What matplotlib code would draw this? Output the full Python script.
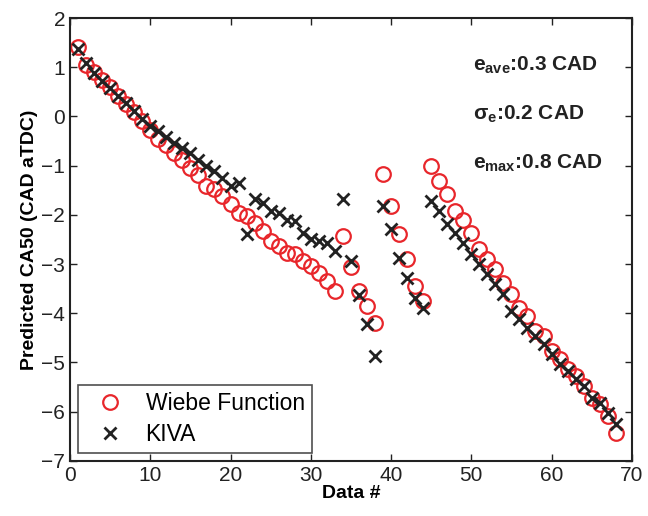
import matplotlib.pyplot as plt
import numpy as np

plt.rcParams['font.family'] = ['Liberation Sans', 'DejaVu Sans']
plt.rcParams['mathtext.fontset'] = 'custom'
plt.rcParams['mathtext.bf'] = 'Liberation Sans:bold'
plt.rcParams['mathtext.rm'] = 'Liberation Sans'

# data
data_no = np.arange(1, 69)

wiebe = [1.42, 1.05, 0.90, 0.75, 0.60, 0.42, 0.25, 0.10, -0.10, -0.28,
         -0.45, -0.58, -0.75, -0.88, -1.05, -1.20, -1.42, -1.48, -1.62, -1.79,
         -1.96, -2.02, -2.16, -2.33, -2.53, -2.63, -2.77, -2.80, -2.94, -3.05,
         -3.19, -3.35, -3.55, -2.43, -3.07, -3.55, -3.86, -4.20, -1.17, -1.82,
         -2.39, -2.90, -3.45, -3.76, -1.00, -1.32, -1.58, -1.93, -2.11, -2.37,
         -2.70, -2.90, -3.10, -3.38, -3.61, -3.89, -4.05, -4.36, -4.46, -4.77,
         -4.93, -5.14, -5.27, -5.48, -5.72, -5.84, -6.09, -6.43]

kiva = [1.38, 1.08, 0.88, 0.72, 0.58, 0.42, 0.28, 0.12, -0.05, -0.20,
        -0.30, -0.42, -0.55, -0.65, -0.75, -0.88, -1.00, -1.10, -1.25, -1.42,
        -1.35, -2.38, -1.68, -1.76, -1.93, -1.97, -2.10, -2.13, -2.37, -2.50,
        -2.54, -2.57, -2.74, -1.68, -2.94, -3.62, -4.22, -4.87, -1.82, -2.29,
        -2.87, -3.28, -3.69, -3.90, -1.72, -1.92, -2.19, -2.37, -2.57, -2.80,
        -3.00, -3.20, -3.40, -3.61, -3.96, -4.12, -4.30, -4.46, -4.63, -4.83,
        -5.04, -5.18, -5.34, -5.48, -5.72, -5.82, -6.03, -6.25]

stats = [r'$\mathbf{e}_{\mathbf{ave}}$:0.3 CAD', r'$\mathbf{\sigma}_{\mathbf{e}}$:0.2 CAD',
         r'$\mathbf{e}_{\mathbf{max}}$:0.8 CAD']

fig = plt.figure(figsize=(6.48, 5.16), dpi=100)
ax = fig.add_axes([0.108, 0.107, 0.867, 0.858])

ax.plot(data_no, wiebe, 'o', mfc='none', mec='#e8262b', ms=10.5, mew=1.6,
        label='Wiebe Function')
ax.plot(data_no, kiva, 'x', color='#222222', ms=8, mew=2, label='KIVA')

ax.set_xlim(0, 70)
ax.set_ylim(-7, 2)
ax.set_xticks(range(0, 71, 10))
ax.set_yticks(range(-7, 3))
ax.tick_params(direction='in', top=True, right=True, labelsize=15,
               length=5, width=1, colors='#222222')
for s in ax.spines.values():
    s.set_linewidth(1.5)
    s.set_color('#222222')

ax.set_xlabel('Data #', fontsize=14, fontweight='bold', labelpad=0)
ax.set_ylabel('Predicted CA50 (CAD aTDC)', fontsize=14, fontweight='bold',
              labelpad=2)

for i, t in enumerate(stats):
    ax.text(50.2, 1.05 - i * 1.0, t, fontsize=15, fontweight='bold',
            color='#222222', va='center')

leg = ax.legend(loc='lower left', fontsize=16.5, frameon=True, fancybox=False,
                edgecolor='#222222', borderaxespad=0.35, handletextpad=0.45,
                handlelength=2.2, borderpad=0.3, labelspacing=0.35)
leg.get_frame().set_linewidth(1.2)

fig.savefig('out.png', dpi=100)
